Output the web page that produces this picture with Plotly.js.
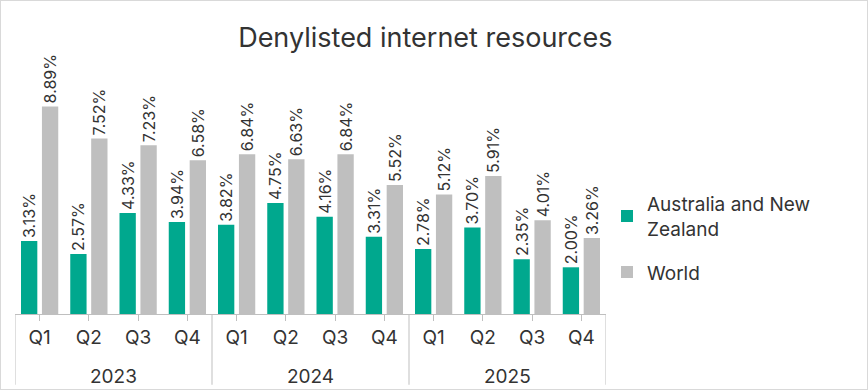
<!DOCTYPE html>
<html><head><meta charset="utf-8">
<script src="https://cdn.plot.ly/plotly-3.0.1.min.js"></script>
<style>html,body{margin:0;padding:0;background:#fff}#chart{width:866px;height:388px;border:1px solid #d9d9d9}</style>
</head><body><div id="chart"></div>
<script>
const years = ["2023","2023","2023","2023","2024","2024","2024","2024","2025","2025","2025","2025"];
const quarters = ["Q1","Q2","Q3","Q4","Q1","Q2","Q3","Q4","Q1","Q2","Q3","Q4"];
const anz = [3.13,2.57,4.33,3.94,3.82,4.75,4.16,3.31,2.78,3.70,2.35,2.00];
const world = [8.89,7.52,7.23,6.58,6.84,6.63,6.84,5.52,5.12,5.91,4.01,3.26];
const seriesNames = ["Australia and New<br>Zealand","World"];
const fontFam = "Inter, 'Noto Sans', sans-serif";
const textColor = "#333333";
const lineColor = "#bfbfbf";
const cats = years.map((y,i)=>y+" "+quarters[i]);
function tr(vals, name, color, grp){
  return {type:"bar", x:cats, y:vals, name:name, legendgroup:grp,
    marker:{color:color},
    texttemplate:"%{y:.2f}%", textposition:"outside", textangle:-90, constraintext:"none",
    textfont:{family:fontFam, size:16, color:textColor}, cliponaxis:false,
    hoverinfo:"skip"};
}
const data = [tr(anz, seriesNames[0], "#00A88E", "g1"), tr(world, seriesNames[1], "#BFBFBF", "g2")];
const uniqYears = [...new Set(years)];
const annotations = [];
const shapes = [];
uniqYears.forEach((yr)=>{
  const idx = years.map((y,i)=>y===yr?i:-1).filter(i=>i>=0);
  const first = idx[0], last = idx[idx.length-1];
  annotations.push({xref:"x", yref:"paper", x:(first+last)/2, y:-0.255, yanchor:"middle", text:yr, showarrow:false,
    font:{family:fontFam, size:19, color:textColor}});
  shapes.push({type:"line", xref:"x", yref:"paper", x0:first-0.5, x1:first-0.5, y0:0, y1:-0.29, line:{color:lineColor, width:1}});
  if(yr===uniqYears[uniqYears.length-1]) shapes.push({type:"line", xref:"x", yref:"paper", x0:last+0.5, x1:last+0.5, y0:0, y1:-0.29, line:{color:lineColor, width:1}});
});
const layout = {
  width:866, height:388,
  margin:{l:14, r:261, t:69, b:75},
  paper_bgcolor:"#fff", plot_bgcolor:"#fff",
  font:{family:fontFam, color:textColor},
  title:{text:"Denylisted internet resources", font:{family:fontFam, size:27, color:textColor}, x:0.49, xref:"container", xanchor:"center", y:0.905, yref:"container", yanchor:"middle"},
  barmode:"group", bargap:0.15, bargroupgap:0.22,
  xaxis:{type:"category", tickvals:cats, ticktext:quarters, range:[-0.5, cats.length-0.5],
    showline:true, linecolor:lineColor, linewidth:1,
    ticks:"outside", ticklen:6, tickcolor:lineColor, ticklabelstandoff:0,
    tickfont:{family:fontFam, size:19, color:textColor}, automargin:false, fixedrange:true},
  yaxis:{range:[0,10.45], visible:false, showgrid:false, zeroline:false, fixedrange:true},
  annotations:annotations, shapes:shapes,
  showlegend:true,
  legend:{x:1.0017, xanchor:"left", y:0.31, yanchor:"middle", font:{family:fontFam, size:19, color:textColor}, tracegroupgap:16, itemwidth:30}
};
Plotly.newPlot("chart", data, layout, {displayModeBar:false, staticPlot:true});
</script></body></html>
